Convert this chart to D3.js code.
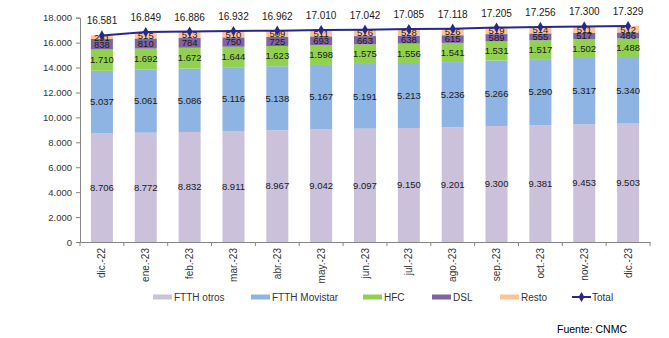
<!DOCTYPE html>
<html><head><meta charset="utf-8">
<script src="https://cdn.jsdelivr.net/npm/d3@7"></script>
<style>
body{margin:0;background:#fff;}
text{font-family:"Liberation Sans",Arial,sans-serif;}
</style></head>
<body>
<svg id="c" width="669" height="338"></svg>
<script>
const categories = ["dic.-22","ene.-23","feb.-23","mar.-23","abr.-23","may.-23","jun.-23","jul.-23","ago.-23","sep.-23","oct.-23","nov.-23","dic.-23"];
const ftthOtros    = [8706,8772,8832,8911,8967,9042,9097,9150,9201,9300,9381,9453,9503];
const ftthMovistar = [5037,5061,5086,5116,5138,5167,5191,5213,5236,5266,5290,5317,5340];
const hfc          = [1710,1692,1672,1644,1623,1598,1575,1556,1541,1531,1517,1502,1488];
const dsl          = [838,810,784,750,725,693,663,638,615,589,555,517,486];
const resto        = [291,515,513,510,509,511,516,528,526,519,514,511,512];
const total        = [16581,16849,16886,16932,16962,17010,17042,17085,17118,17205,17256,17300,17329];
const yTicks       = [0,2000,4000,6000,8000,10000,12000,14000,16000,18000];
const seriesNames  = ["FTTH otros","FTTH Movistar","HFC","DSL","Resto"];
const seriesValues = [ftthOtros, ftthMovistar, hfc, dsl, resto];
const colors = ["#ccc1da","#8db4e2","#92d050","#8064a2","#fac496"];
const lineColor = "#28288a";

const svg = d3.select("#c");
const fmt = v => d3.format(",")(v).replace(/,/g,".");

const x = d3.scaleBand().domain(categories).range([80,650]).paddingInner(0).paddingOuter(0);
const y = d3.scaleLinear().domain([0,18000]).range([242,17.7]);
const barW = 22;

const rows = categories.map((c,i)=>{const o={cat:c}; seriesNames.forEach((s,j)=>o[s]=seriesValues[j][i]); return o;});
const stacked = d3.stack().keys(seriesNames)(rows);

// bars
stacked.forEach((layer,j)=>{
  svg.append("g").selectAll("rect").data(layer).join("rect")
    .attr("x",d=>x(d.data.cat)+x.bandwidth()/2-barW/2)
    .attr("width",barW)
    .attr("y",d=>y(d[1]))
    .attr("height",d=>y(d[0])-y(d[1]))
    .attr("fill",colors[j]);
});

// axes
const yAxis = svg.append("g").attr("transform","translate(80,0)")
  .call(d3.axisLeft(y).tickValues(yTicks).tickFormat(fmt).tickSize(4).tickPadding(4));
yAxis.select(".domain").attr("stroke","#868686");
yAxis.selectAll(".tick line").attr("stroke","#868686");
yAxis.selectAll("text").attr("font-size","9.5px").attr("fill","#333").style("font-family","'Liberation Sans',Arial,sans-serif");

const xAxis = svg.append("g").attr("transform","translate(0,242)")
  .call(d3.axisBottom(x).tickSize(0).tickFormat(""));
xAxis.select(".domain").attr("stroke","#868686");
// boundary ticks
const bounds = categories.map(c=>x(c)).concat([x.range()[1]]);
svg.append("g").selectAll("line").data(bounds).join("line")
  .attr("x1",d=>d).attr("x2",d=>d).attr("y1",242).attr("y2",246)
  .attr("stroke","#868686");
// x labels rotated
svg.append("g").selectAll("text").data(categories).join("text")
  .attr("transform",d=>`translate(${x(d)+x.bandwidth()/2},248) rotate(-90)`)
  .attr("text-anchor","end").attr("dy","0.35em")
  .attr("font-size","10px").attr("fill","#333").text(d=>d);

// segment labels
stacked.forEach((layer,j)=>{
  svg.append("g").selectAll("text").data(layer).join("text")
    .attr("x",d=>x(d.data.cat)+x.bandwidth()/2)
    .attr("y",d=>(y(d[0])+y(d[1]))/2)
    .attr("dy","0.35em").attr("text-anchor","middle")
    .attr("font-size","9.5px").attr("fill","#1a1a1a")
    .text(d=>fmt(d.data[seriesNames[j]]));
});

// total line
const line = d3.line().x((d,i)=>x(categories[i])+x.bandwidth()/2).y(d=>y(d));
svg.append("path").datum(total).attr("d",line).attr("fill","none").attr("stroke",lineColor).attr("stroke-width",2);
const diamond = d3.symbol().type(d3.symbolDiamond).size(30);
svg.append("g").selectAll("path").data(total).join("path")
  .attr("transform",(d,i)=>`translate(${x(categories[i])+x.bandwidth()/2},${y(d)})`)
  .attr("d",diamond).attr("fill",lineColor);
svg.append("g").selectAll("text").data(total).join("text")
  .attr("x",(d,i)=>x(categories[i])+x.bandwidth()/2)
  .attr("y",d=>y(d)-11)
  .attr("text-anchor","middle").attr("font-size","10px").attr("fill","#1a1a1a")
  .text(d=>fmt(d));

// legend
const legendX = [153,251,363,432,500];
const ly = 297;
seriesNames.forEach((s,j)=>{
  svg.append("rect").attr("x",legendX[j]).attr("y",ly-2.5).attr("width",19).attr("height",5).attr("fill",colors[j]);
  svg.append("text").attr("x",legendX[j]+21).attr("y",ly).attr("dy","0.35em")
    .attr("font-size","10px").attr("fill","#333").text(s);
});
svg.append("line").attr("x1",572).attr("x2",591).attr("y1",ly).attr("y2",ly).attr("stroke",lineColor).attr("stroke-width",2);
svg.append("path").attr("transform",`translate(581.5,${ly})`).attr("d",diamond).attr("fill",lineColor);
svg.append("text").attr("x",592).attr("y",ly).attr("dy","0.35em").attr("font-size","10px").attr("fill","#333").text("Total");

svg.append("text").attr("x",557).attr("y",333).attr("font-size","10.5px").attr("fill","#000").text("Fuente: CNMC");
</script>
</body></html>
